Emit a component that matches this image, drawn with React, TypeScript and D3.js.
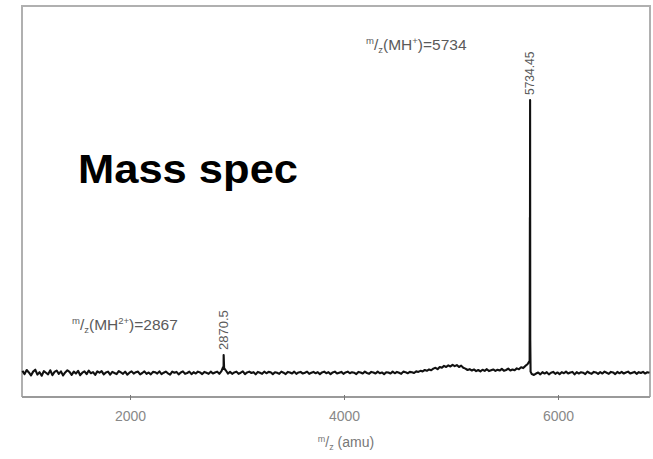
import React from "react";
import * as d3 from "d3";

const W = 653;
const H = 459;

// m/z grid (amu) of the baseline trace, sampled every 20 amu
const mzStart = 990;
const mzStep = 20;
// relative intensity of the trace at each grid point
const baseline: number[] = [
  0.8, -0.4, 1.1, 0.2, -0.9, 0.5, 1.2, -0.6, 0.3, -1.0,
  0.7, 0.1, -0.5, 1.0, -0.8, 0.4, 0.9, -0.3, 0.6, -0.9,
  0.2, 1.0, 0.4, -0.7, 0.5, -0.2, 0.8, -0.8, 0.1, 0.6,
  -0.4, 0.9, -0.1, 0.3, -0.7, 0.6, 0.1, 0.7, -0.5, 0.2,
  0.5, -0.6, 0.4, 0.0, -0.4, 0.7, 0.2, -0.3, 0.5, -0.6,
  0.1, 0.6, -0.2, 0.3, 0.5, -0.5, 0.0, 0.6, -0.3, 0.2,
  -0.5, 0.4, 0.3, -0.2, 0.6, -0.4, 0.1, 0.5, -0.1, -0.6,
  0.5, 0.1, 0.4, -0.5, 0.2, 0.6, -0.3, 0.0, 0.5, -0.4,
  0.3, -0.2, 0.5, 0.2, -0.4, 0.4, 0.1, -0.3, 0.5, -0.2,
  0.2, 0.5, -0.3, 0.7, 1.5, 1.0, -0.2, 0.4, -0.3, 0.2,
  0.5, -0.3, 0.1, 0.6, -0.4, 0.2, 0.5, 0.0, 0.3, -0.5,
  0.4, 0.1, -0.3, 0.5, -0.1, 0.4, 0.3, -0.4, 0.3, 0.1,
  -0.3, 0.5, 0.1, -0.4, 0.4, 0.2, -0.2, 0.5, -0.3, 0.2,
  0.4, -0.2, 0.1, 0.5, -0.3, 0.1, 0.4, -0.1, 0.3, -0.4,
  0.2, 0.5, -0.1, 0.3, -0.4, 0.2, 0.5, -0.2, 0.1, 0.4,
  -0.3, 0.2, 0.5, -0.1, 0.3, 0.1, -0.4, 0.4, 0.2, -0.2,
  0.5, 0.0, -0.3, 0.4, 0.2, -0.2, 0.5, -0.1, 0.2, -0.4,
  0.3, 0.2, -0.2, 0.5, -0.1, 0.4, 0.1, -0.3, 0.5, 0.3,
  -0.1, 0.4, 0.3, 0.0, 0.6, 0.4, 0.8, 0.6, 1.1, 0.8,
  1.3, 1.0, 1.6, 1.9, 1.4, 2.2, 1.9, 2.6, 2.2, 2.8,
  2.4, 3.0, 2.5, 2.9, 2.2, 2.7, 1.9, 1.6, 1.1, 1.4,
  0.9, 1.3, 0.7, 1.1, 0.6, 1.2, 0.8, 1.4, 0.7, 1.0,
  1.3, 0.8, 1.2, 0.9, 1.5, 0.8, 1.1, 1.6, 0.9, 1.3,
  1.0, 1.7, 1.4, 2.1, 1.8, 2.6, 3.2, 4.5, -0.4, -0.7,
  -0.2, 0.2, -0.5, 0.3, -0.2, 0.3, -0.5, 0.1, 0.4, -0.3,
  0.2, -0.4, 0.3, -0.1, 0.5, -0.2, 0.2, 0.4, -0.5, 0.3,
  -0.2, 0.3, 0.1, -0.4, 0.5, 0.0, -0.3, 0.4, 0.2, -0.3,
  0.3, -0.2, 0.5, 0.1, -0.3, 0.4, 0.2, -0.4, 0.4, -0.1,
  0.4, -0.2, 0.2, 0.5, -0.2, 0.1, 0.4, -0.3, 0.3, 0.0,
  0.4, -0.2, 0.3, 0.1,
];

// extra samples across the two peaks
const peakMz: number[] = [2866, 2870.5, 2875, 5731, 5732.5, 5733.5, 5734.45, 5736, 5739];
const peakInt: number[] = [2.2, 6.6, 1.8, 20, 57, 56, 100, 12, 0.5];

const xTicks: number[] = [2000, 4000, 6000];
const peakLabels = [
  { mz: 5734.45, int: 100, text: "5734.45", size: 12 },
  { mz: 2870.5, int: 6.6, text: "2870.5", size: 13 },
];

export default function App() {
  const x = d3.scaleLinear().domain([986, 6855]).range([22, 650]);
  const y = d3.scaleLinear().domain([0, 100]).range([373, 100]);
  const plotTop = 6;
  const plotBottom = 397;

  const pts: [number, number][] = baseline.map((v, i) => [mzStart + i * mzStep, v]);
  peakMz.forEach((m, i) => pts.push([m, peakInt[i]]));
  pts.sort((a, b) => a[0] - b[0]);

  const line = d3
    .line<[number, number]>()
    .x((d) => x(d[0]))
    .y((d) => y(d[1]));

  const gray = "#9a9a9a";
  const txt = "#5a5a5a";
  const font = "Liberation Sans, Arial, sans-serif";

  return (
    <svg
      width={W}
      height={H}
      style={{ position: "absolute", left: 0, top: 0, background: "#fff" }}
      fontFamily={font}
    >
      <rect x={0} y={0} width={W} height={H} fill="#fff" />
      {/* frame */}
      <path
        d={`M${x.range()[0]},${plotBottom}V${plotTop}H${x.range()[1]}V${plotBottom}`}
        fill="none"
        stroke="#b0b0b0"
        strokeWidth={2}
      />
      <line x1={x.range()[0]} x2={x.range()[1]} y1={plotBottom} y2={plotBottom} stroke={gray} strokeWidth={2.2} />
      {xTicks.map((t) => (
        <g key={t}>
          <line x1={x(t)} x2={x(t)} y1={plotBottom - 2} y2={plotBottom + 3} stroke="#777" strokeWidth={1} />
          <text x={x(t)} y={421} textAnchor="middle" fontSize={14} fill="#888">
            {t}
          </text>
        </g>
      ))}
      {/* axis title m/z (amu) */}
      <text x={346} y={447} textAnchor="middle" fontSize={14} fill="#777">
        <tspan fontSize={9} dy={-5}>m</tspan>
        <tspan dy={5}>/</tspan>
        <tspan fontSize={9} dy={3}>z</tspan>
        <tspan dy={-3}> (amu)</tspan>
      </text>

      {/* spectrum */}
      <path d={line(pts) || ""} fill="none" stroke="#111" strokeWidth={2.1} strokeLinejoin="round" />

      {/* peak labels */}
      {peakLabels.map((p) => (
        <text
          key={p.text}
          transform={`translate(${x(p.mz) + 4},${y(p.int) - 5}) rotate(-90)`}
          fontSize={p.size}
          fill={txt}
        >
          {p.text}
        </text>
      ))}

      {/* annotations */}
      <text x={366} y={50} fontSize={15.5} fill={txt}>
        <tspan fontSize={9.5} dy={-6}>m</tspan>
        <tspan dy={6}>/</tspan>
        <tspan fontSize={9.5} dy={3}>z</tspan>
        <tspan dy={-3}>(MH</tspan>
        <tspan fontSize={9.5} dy={-6}>+</tspan>
        <tspan dy={6}>)=5734</tspan>
      </text>
      <text x={72} y={330} fontSize={15.5} fill={txt}>
        <tspan fontSize={9.5} dy={-6}>m</tspan>
        <tspan dy={6}>/</tspan>
        <tspan fontSize={9.5} dy={3}>z</tspan>
        <tspan dy={-3}>(MH</tspan>
        <tspan fontSize={9.5} dy={-6}>2+</tspan>
        <tspan dy={6}>)=2867</tspan>
      </text>

      <text
        x={78}
        y={183}
        fontSize={40}
        fontWeight="bold"
        fill="#000"
        textLength={220}
        lengthAdjust="spacingAndGlyphs"
      >
        Mass spec
      </text>
    </svg>
  );
}
